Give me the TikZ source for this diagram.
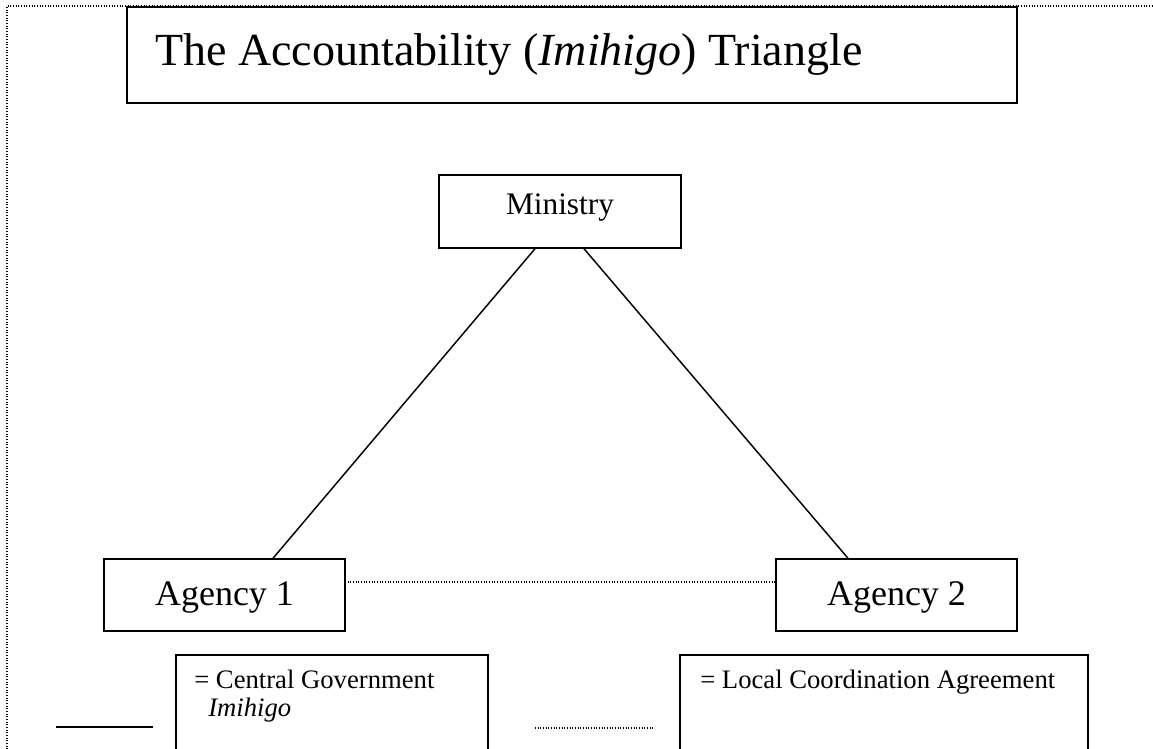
\documentclass[tikz,border=0pt]{standalone}
\usepackage{fontspec}
\setmainfont{Liberation Serif}
\usetikzlibrary{calc}
\begin{document}
\begin{tikzpicture}[x=0.75pt,y=-0.75pt,
  box/.style={draw,line width=1.1pt,rectangle,inner sep=0pt},
  conn/.style={line width=1.1pt},
  dots/.style={line width=0.8pt,dash pattern=on 0.75pt off 1.25pt},
  legtext/.style={anchor=base west,inner sep=0pt,font=\fontsize{20}{24}\selectfont}]
\useasboundingbox (0,0) rectangle (1153,749);
\clip (0,0) rectangle (1153,749);
% page border
\coordinate (bl) at (7,760);
\coordinate (tl) at (7,6);
\coordinate (tr) at (1160,6);
\draw[dots] (bl) -- (tl) -- (tr);
% title
\node[box,minimum width=667.5pt,minimum height=72pt] (titlebox) at (572,55) {};
\node[anchor=base west,inner sep=0pt,font=\fontsize{34.5}{40}\selectfont] (title) at (155,66) {The Accountability (\textit{Imihigo}) Triangle};
% main boxes
\node[box,minimum width=181.5pt,minimum height=54.75pt,text height=15.6pt,text depth=11.2pt,font=\fontsize{23.5}{28}\selectfont] (min) at (560,211.5) {Ministry};
\node[box,minimum width=180.75pt,minimum height=54pt,text height=22pt,text depth=5.9pt,font=\fontsize{27}{32}\selectfont] (ag1) at (224.5,595) {Agency 1};
\node[box,minimum width=180.75pt,minimum height=54pt,text height=22pt,text depth=5.9pt,font=\fontsize{27}{32}\selectfont] (ag2) at (896.5,595) {Agency 2};
% connectors
\draw[conn] ($(min.south)+(-25,0)$) -- ($(ag1.north)+(48.5,0)$);
\draw[conn] ($(min.south)+(24,0)$) -- ($(ag2.north)+(-48.5,0)$);
\draw[dots] ($(ag1.east)+(2,-13)$) -- ($(ag2.west)+(0,-13)$);
% legend
\node[box,minimum width=234pt,minimum height=93.75pt] (leg1) at (332,717.5) {};
\node[box,minimum width=306pt,minimum height=93.75pt] (leg2) at (884,717.5) {};
\node[legtext] (leg1a) at (194,688) {= Central Government};
\node[legtext] (leg1b) at (208,716) {\textit{Imihigo}};
\node[legtext] (leg2a) at (700,688) {= Local Coordination Agreement};
\coordinate (solA) at (56,727);
\coordinate (solB) at (153,727);
\draw[conn] (solA) -- (solB);
\coordinate (dotA) at (535,728);
\coordinate (dotB) at (653,728);
\draw[dots] (dotA) -- (dotB);
\end{tikzpicture}
\end{document}
